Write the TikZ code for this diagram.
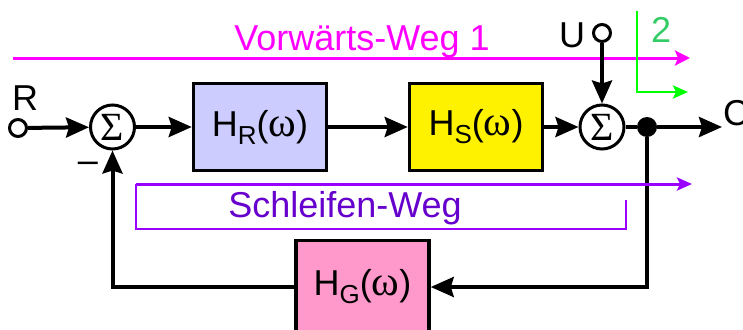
\documentclass[tikz,border=0pt]{standalone}
\usepackage{fontspec}
\setmainfont{Liberation Sans}
\newfontfamily\serf{Liberation Serif}
\usetikzlibrary{arrows.meta,positioning}
\definecolor{vwmag}{HTML}{FF00FF}
\definecolor{grline}{HTML}{00FF00}
\definecolor{grtext}{HTML}{33CC66}
\definecolor{slline}{HTML}{9900FF}
\definecolor{sltext}{HTML}{6600CC}
\definecolor{hrblue}{HTML}{CCCCFF}
\definecolor{hgpink}{HTML}{FF99CC}
\newcommand{\Hw}[1]{H\raisebox{-8pt}{\fontsize{26}{26}\selectfont #1}({\fontsize{42}{42}\selectfont\serf ω})}
\newcommand{\sumsign}{{\fontsize{40}{40}\selectfont\serf Σ}}

\begin{document}
\begin{tikzpicture}[x=1pt, y=-1pt, font=\fontsize{36}{40}\selectfont,
  >={Stealth[length=23pt 0,width=20pt 0,inset=3pt]},
  blk/.style={draw, line width=3.5pt, minimum width=133pt, minimum height=87pt, inner sep=0pt},
  sumpt/.style={circle, draw, line width=3pt, minimum size=44pt, inner sep=0pt},
  term/.style={circle, draw, line width=3pt, minimum size=17pt, inner sep=0pt},
  sig/.style={line width=4pt},
  vwline/.style={vwmag, line width=3pt, -{Stealth[length=15pt 0,width=15pt 0,inset=3pt]}},
  grpath/.style={grline, line width=2.5pt, -{Stealth[length=15pt 0,width=13pt 0,inset=3pt]}},
  slpath/.style={slline, line width=3pt}]
\useasboundingbox (0,0) rectangle (743,329);
\clip (0,0) rectangle (743,329);
% Vorwaerts-Weg
\coordinate (vw0) at (13,58);
\coordinate (vw1) at (690,58);
\draw[vwline] (vw0) -- (vw1);
\node[vwmag, anchor=base] (vwtext) at (362,51) {Vorwärts-Weg 1};
\coordinate (gr0) at (637,11);
\coordinate (gr1) at (637,92);
\coordinate (gr2) at (688,92);
\draw[grpath] (gr0) -- (gr1) -- (gr2);
\node[grtext, anchor=base] (grlabel) at (661,42) {2};
% blocks
\node[term] (r) at (18,128) {};
\node[anchor=base] (rlabel) at (25,110) {R};
\node[sumpt] (s1) at (112.5,127) {\sumsign};
\node[blk, fill=hrblue] (hr) at (260,127) {\Hw{R}};
\node[blk, fill=yellow] (hs) at (476,127) {\Hw{S}};
\node[sumpt] (s2) at (602,127) {\sumsign};
\node[circle, fill, minimum size=20pt, inner sep=0pt] (dot) at (647,127) {};
\coordinate (out) at (722,127);
\node[anchor=base west, inner sep=0pt] (clabel) at (723,125) {C};
\node[term] (u) at (602,33) {};
\node[anchor=base] (ulabel) at (572,48) {U};
\node[blk, fill=hgpink, minimum height=93pt] (hg) at (362.5,287) {\Hw{G}};
\node (minus) at (88,167) {–};
% signals
\draw[sig,->] (r) -- (s1);
\draw[sig,->] (s1) -- (hr);
\draw[sig,->] (hr) -- (hs);
\draw[sig,->] (hs) -- (s2);
\draw[sig] (s2) -- (dot);
\draw[sig,->] (dot) -- (out);
\draw[sig,->] (u) -- (s2);
\draw[sig,->] (dot) |- (hg);
\draw[sig,->] (hg) -| (s1);
% Schleifen-Weg
\coordinate (sl0) at (136,184);
\coordinate (sl1) at (692,184);
\coordinate (br0) at (626,200);
\coordinate (br1) at (626,229);
\coordinate (br2) at (136,229);
\draw[slpath, -{Stealth[length=15pt 0,width=13pt 0,inset=3pt]}] (sl0) -- (sl1);
\draw[slpath, line width=2pt] (br0) -- (br1) -- (br2) -- (sl0);
\node[sltext, anchor=base] (sltext) at (345,217) {Schleifen-Weg};
\end{tikzpicture}
\end{document}
